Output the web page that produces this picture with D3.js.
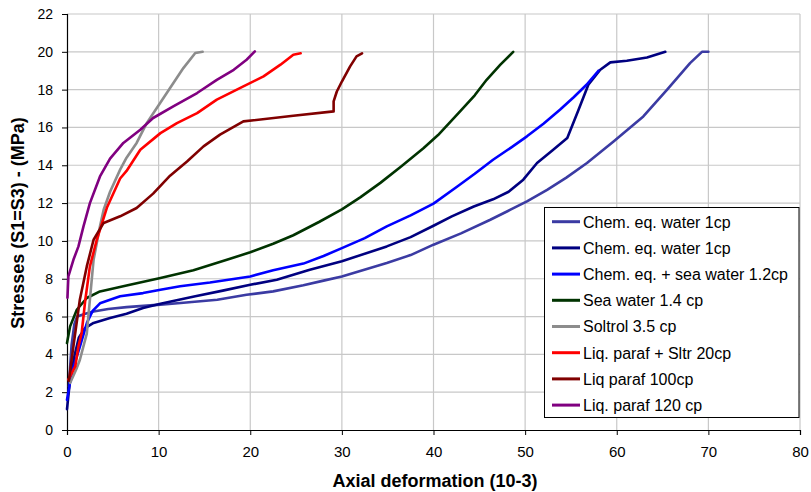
<!DOCTYPE html>
<html><head><meta charset="utf-8">
<script src="https://cdn.jsdelivr.net/npm/d3@7"></script>
<style>body{margin:0;background:#fff}text{font-family:"Liberation Sans",Arial,sans-serif}</style>
</head><body><svg id="c" width="811" height="492"></svg>
<script>
const xTicks=[0,10,20,30,40,50,60,70,80];
const yTicks=[0,2,4,6,8,10,12,14,16,18,20,22];
const seriesNames=["Chem. eq. water 1cp","Chem. eq. water 1cp","Chem. eq. + sea water 1.2cp","Sea water 1.4 cp","Soltrol 3.5 cp","Liq. paraf + Sltr 20cp","Liq paraf 100cp","Liq. paraf 120 cp"];
const seriesColors=["#3b3ba3","#000080","#0000ff","#003300","#8c8c8c","#ff0000","#800000","#800080"];
const chemWater1=[[0.2,2.3],[0.5,4.5],[0.8,5.6],[1.1,6.0],[2,6.15],[2.9,6.27],[4.5,6.4],[6.5,6.5],[10.2,6.63],[12.4,6.72],[16.4,6.89],[19.6,7.15],[22.5,7.33],[25.8,7.65],[28,7.9],[30,8.12],[34.9,8.83],[37.5,9.25],[40,9.8],[43,10.4],[46.2,11.12],[48.4,11.65],[50.2,12.09],[52.4,12.7],[54.5,13.35],[56.75,14.12],[59.65,15.26],[62.9,16.58],[65.5,18.0],[68.0,19.4],[69.3,20],[70.0,20]];
const chemWater2=[[0,1.1],[0.3,2.5],[0.8,3.9],[1.3,4.9],[1.97,5.39],[2.9,5.66],[4.7,5.92],[6.5,6.15],[8.3,6.45],[10.2,6.68],[12.35,6.9],[14,7.07],[17,7.37],[20,7.68],[22.9,7.95],[26.5,8.48],[30,8.92],[34.9,9.71],[37.5,10.2],[40,10.8],[42,11.3],[44.4,11.82],[46.5,12.2],[48.2,12.6],[49.8,13.24],[51.3,14.12],[53,14.8],[54.6,15.44],[55.8,16.9],[56.9,18.26],[58.2,19.05],[59.3,19.44],[61.1,19.53],[63.3,19.7],[65.3,20]];
const chemSea=[[0,1.6],[0.5,3.0],[1.4,4.4],[2.2,5.7],[2.8,6.3],[3.6,6.7],[5.8,7.07],[8.3,7.24],[10.2,7.42],[12.35,7.6],[15.6,7.8],[20,8.12],[22.5,8.45],[25.8,8.8],[28,9.2],[30,9.62],[32.5,10.15],[34.9,10.77],[37.5,11.35],[40,11.97],[42.6,12.88],[44.5,13.55],[46.5,14.29],[48.5,14.95],[50.2,15.53],[52,16.2],[53.8,16.94],[55.3,17.6],[56.7,18.26],[58.0,19.0]];
const seaWater=[[0,4.6],[0.34,5.48],[1.07,6.36],[2.16,6.98],[3.6,7.33],[6.5,7.64],[10.2,8.04],[13.8,8.45],[17.45,9.0],[20,9.4],[22.5,9.85],[24.7,10.3],[27.5,11.0],[30,11.67],[32,12.3],[34.2,13.07],[36.5,13.95],[38.9,14.9],[40.5,15.6],[42.9,16.85],[44.5,17.7],[45.8,18.52],[47.3,19.32],[48.7,20]];
const soltrol=[[0.34,2.49],[1.0,3.2],[1.4,3.7],[2.16,5.1],[2.5,6.9],[2.9,9.0],[3.6,10.77],[4.0,11.65],[4.7,12.6],[5.8,13.77],[6.5,14.4],[7.6,15.18],[8.7,16.23],[9.8,17.03],[11.25,18.09],[12.7,19.14],[14.0,19.94],[14.8,20]];
const liqSltr=[[0.15,2.66],[0.9,3.36],[1.25,4.42],[1.6,5.13],[2.0,6.89],[2.5,8.65],[3.25,10.06],[4.35,11.75],[5.8,13.3],[6.5,13.7],[8.0,14.82],[10.2,15.7],[12.0,16.23],[14.2,16.76],[16.35,17.47],[19.25,18.17],[21.45,18.7],[23.3,19.32],[24.7,19.85],[25.5,19.92]];
const liq100=[[0.2,2.6],[0.7,4.42],[1.4,6.89],[2.16,8.65],[2.9,10.06],[4.0,10.95],[5.8,11.3],[7.6,11.74],[9.4,12.5],[11.25,13.45],[13.1,14.2],[14.9,15.0],[16.7,15.62],[19.25,16.32],[24.7,16.62],[29.1,16.85],[29.1,17.38],[29.45,17.9],[30,18.43],[30.9,19.23],[31.6,19.76],[32.2,19.92]];
const liq120=[[0.05,7.0],[0.15,8.12],[0.7,9.0],[1.25,9.71],[1.8,10.77],[2.5,12.0],[3.6,13.41],[4.7,14.35],[6.15,15.18],[8.0,15.88],[9.4,16.5],[11.6,17.11],[14.2,17.82],[16.35,18.52],[18.2,19.05],[19.6,19.58],[20.5,20.02]];
const seriesData=[chemWater1,chemWater2,chemSea,seaWater,soltrol,liqSltr,liq100,liq120];

const svg=d3.select("#c");
const m={l:67,r:800,t:14,b:430};
const x=d3.scaleLinear().domain([0,80]).range([m.l,m.r]);
const y=d3.scaleLinear().domain([0,22]).range([m.b,m.t]);

// grid
svg.append("g").selectAll("line").data(xTicks.filter(d=>d>0)).join("line")
 .attr("x1",d=>x(d)).attr("x2",d=>x(d)).attr("y1",m.t).attr("y2",m.b)
 .attr("stroke","#c8c8c8").attr("stroke-width",1.2);
svg.append("g").selectAll("line").data(yTicks.filter(d=>d>0)).join("line")
 .attr("x1",m.l).attr("x2",m.r).attr("y1",d=>y(d)).attr("y2",d=>y(d))
 .attr("stroke","#c8c8c8").attr("stroke-width",1.2);

// axes
const xa=svg.append("g").attr("transform",`translate(0,${m.b})`)
 .call(d3.axisBottom(x).tickValues(xTicks).tickSize(5).tickPadding(11).tickFormat(d3.format("d")));
const ya=svg.append("g").attr("transform",`translate(${m.l},0)`)
 .call(d3.axisLeft(y).tickValues(yTicks).tickSize(5).tickPadding(9).tickFormat(d3.format("d")));
[xa,ya].forEach(a=>{a.select(".domain").attr("stroke","#000").attr("stroke-width",1.2);
 a.selectAll(".tick line").attr("stroke","#000");
 a.selectAll("text").attr("fill","#000").attr("font-family","Liberation Sans, Arial, sans-serif");});
xa.selectAll("text").attr("font-size",15);
ya.selectAll("text").attr("font-size",14);

// lines
const line=d3.line().x(d=>x(d[0])).y(d=>y(d[1]));
seriesData.forEach((s,i)=>{
 svg.append("path").attr("d",line(s)).attr("fill","none").attr("stroke",seriesColors[i])
  .attr("stroke-width",2.6).attr("stroke-linejoin","round").attr("stroke-linecap","round");
});

// titles
svg.append("text").attr("x",435).attr("y",487).attr("text-anchor","middle")
 .attr("font-size",18).attr("font-weight","bold").text("Axial deformation  (10-3)");
svg.append("text").attr("transform","translate(24,223) rotate(-90)").attr("text-anchor","middle")
 .attr("font-size",18).attr("font-weight","bold").text("Stresses (S1=S3) - (MPa)");

// legend
const lg=svg.append("g");
lg.append("rect").attr("x",544.5).attr("y",207.5).attr("width",254.5).attr("height",210)
 .attr("fill","#fff").attr("stroke","#000").attr("stroke-width",1);
seriesNames.forEach((n,i)=>{
 const cy=221.7+i*26.2;
 lg.append("line").attr("x1",552).attr("x2",580).attr("y1",cy).attr("y2",cy)
  .attr("stroke",seriesColors[i]).attr("stroke-width",3);
 lg.append("text").attr("x",583).attr("y",cy+5.8).attr("font-size",16).text(n);
});
</script></body></html>
